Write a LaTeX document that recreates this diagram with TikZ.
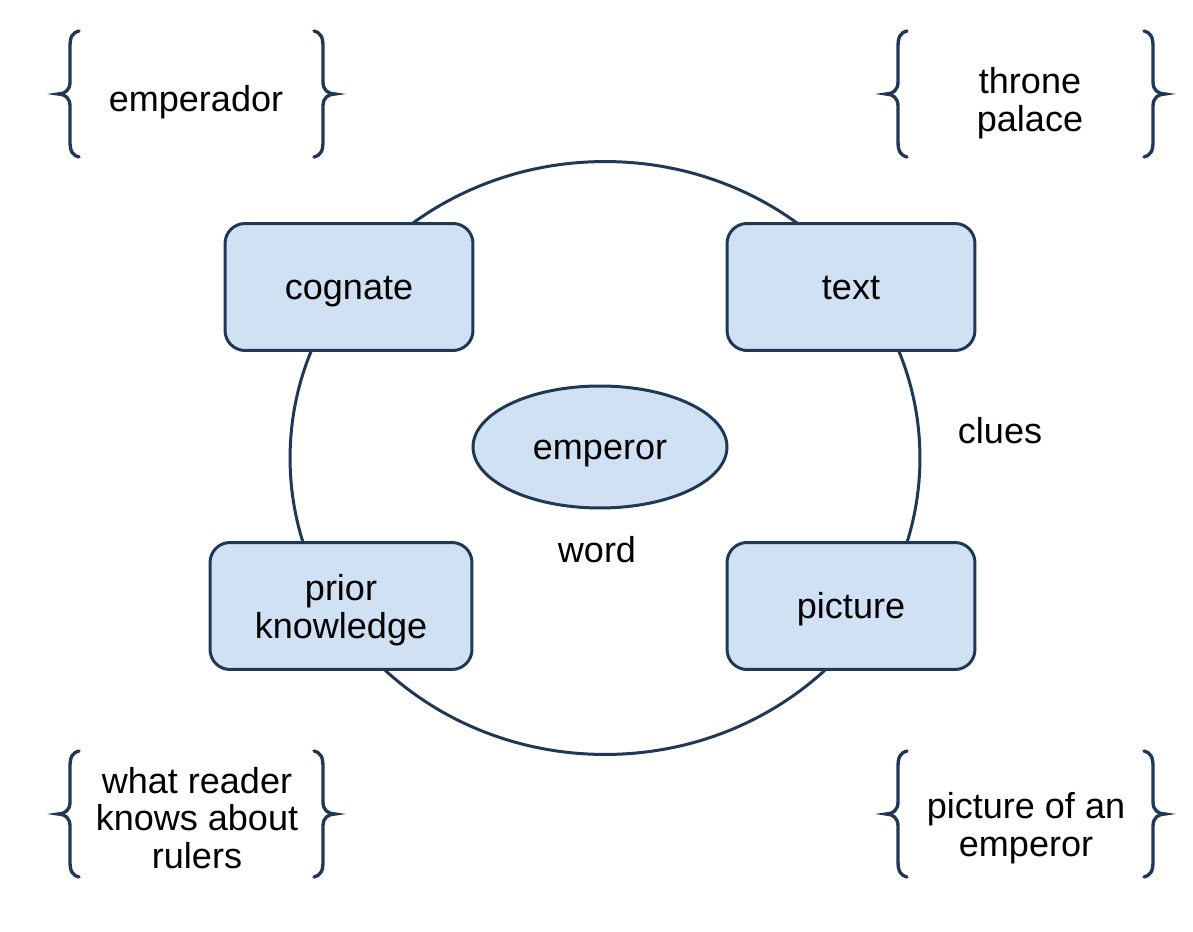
\documentclass[tikz,border=0pt]{standalone}
\usepackage{fontspec}
\setmainfont{Liberation Sans}
\usetikzlibrary{shapes.geometric}
\definecolor{boxfill}{RGB}{207,225,243}
\definecolor{boxline}{RGB}{31,56,86}
\tikzset{
  bracestyle/.style={draw=boxline, line width=1.9pt, line cap=round},
  lbrace/.pic={\path[bracestyle] (9,-63) .. controls (2,-61) and (0,-57) .. (0,-47) -- (0,-12) .. controls (0,-4) and (-5,0) .. (-12,0) .. controls (-5,0) and (0,4) .. (0,12) -- (0,47) .. controls (0,57) and (2,61) .. (9,63);},
  clue/.style={draw=boxline, fill=boxfill, line width=1.7pt, rounded corners=0.4cm, minimum width=4.96cm, minimum height=2.54cm, inner sep=0pt, align=center},
  oneline/.style={text height=17pt, text depth=3pt},
  lbl/.style={align=center, inner sep=0pt},
  every node/.style={font=\fontsize{20.5}{21.5}\selectfont},
}
\begin{document}
\begin{tikzpicture}[x=0.02cm,y=-0.02cm]
\useasboundingbox[fill=white] (0,0) rectangle (1193,932);
% ring
\node[draw=boxline, line width=1.7pt, ellipse, minimum width=12.6cm, minimum height=11.86cm, inner sep=0pt] (ring) at (605,458) {};
% clue boxes
\node[clue, oneline] (cognate) at (349,287) {cognate};
\node[clue, oneline] (text) at (851,287) {text};
\node[clue, minimum width=5.24cm] (prior) at (341,606) {\rule{0pt}{20pt}prior\\knowledge};
\node[clue, oneline] (picture) at (851,606) {picture};
% central word
\node[ellipse, draw=boxline, fill=boxfill, line width=1.7pt, minimum width=5.08cm, minimum height=2.44cm, inner sep=0pt, oneline] (word) at (600,447) {emperor};
\node[lbl, oneline] (wordlbl) at (597,550) {word};
\node[lbl, oneline] (clues) at (1000,431) {clues};
% examples
\node[lbl, oneline] (ex1) at (196,99) {emperador};
\node[lbl] (ex2) at (1030,103) {throne\\palace};
\node[lbl] (ex3) at (197,818) {what reader\\knows about\\rulers};
\node[lbl] (ex4) at (1026,828) {picture of an\\emperor};
% braces
\pic at (70,94) {lbrace};
\pic[xscale=-1] at (323,94) {lbrace};
\pic at (898,94) {lbrace};
\pic[xscale=-1] at (1153,94) {lbrace};
\pic at (70,814) {lbrace};
\pic[xscale=-1] at (323,814) {lbrace};
\pic at (898,814) {lbrace};
\pic[xscale=-1] at (1153,814) {lbrace};
\end{tikzpicture}
\end{document}
